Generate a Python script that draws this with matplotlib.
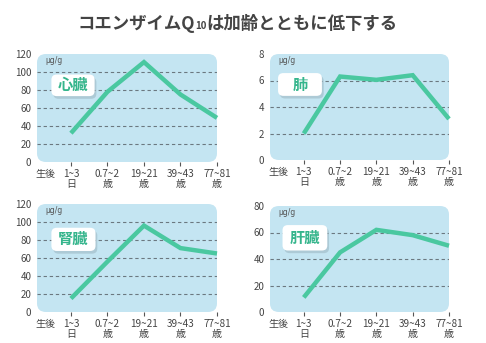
import matplotlib
matplotlib.use("Agg")
from matplotlib import pyplot as plt
from matplotlib.patches import FancyBboxPatch

plt.rcParams['font.family'] = ['Noto Sans CJK JP', 'DejaVu Sans']

# data
age_labels = ['生後\n ', '1~3\n日', '0.7~2\n歳', '19~21\n歳', '39~43\n歳', '77~81\n歳']
organs = ['心臓', '肺', '腎臓', '肝臓']
heart = [32, 78, 111, 75, 49]
lung = [2.0, 6.3, 6.05, 6.4, 3.1]
kidney = [15, 56, 96, 71, 65]
liver = [11, 45, 62, 58, 50]
y_max = [120, 8, 120, 80]
y_step = [20, 2, 20, 20]
unit = 'μg/g'

LINE = '#4ac8a0'
LABEL = '#35b58c'
BG = '#c4e5f2'
TXT = '#444444'

# layout: axes rect, label box (x0, y0, x1, y1) in axes fraction
axes_rects = [
    [37 / 486, 181 / 343, 180 / 486, 108 / 343],
    [270 / 486, 183 / 343, 179 / 486, 106 / 343],
    [37 / 486, 31 / 343, 180 / 486, 108 / 343],
    [270 / 486, 31 / 343, 179 / 486, 106 / 343],
]
label_boxes = [
    (0.08, 0.61, 0.32, 0.81),
    (0.045, 0.605, 0.29, 0.82),
    (0.08, 0.565, 0.325, 0.78),
    (0.07, 0.58, 0.32, 0.82),
]

fig = plt.figure(figsize=(4.86, 3.43), dpi=100)
fig.patch.set_facecolor('white')

# title with small "10"
renderer = fig.canvas.get_renderer()
base = 1 - 29 / 343
t1 = fig.text(78 / 486, base, 'コエンザイムQ', fontsize=12.5, fontweight='bold',
              color=TXT, va='baseline', ha='left')
x1 = fig.transFigure.inverted().transform(
    (t1.get_window_extent(renderer).x1, 0))[0]
t2 = fig.text(x1 - 0.001, base, '10', fontsize=7, fontweight='bold',
              color=TXT, va='baseline', ha='left')
x2 = fig.transFigure.inverted().transform(
    (t2.get_window_extent(renderer).x1, 0))[0]
fig.text(x2, base, 'は加齢とともに低下する', fontsize=12.5, fontweight='bold',
         color=TXT, va='baseline', ha='left')

series = [heart, lung, kidney, liver]
x = [1, 2, 3, 4, 5]

for i in range(4):
    ax = fig.add_axes(axes_rects[i])
    ax.patch.set_visible(False)
    for s in ax.spines.values():
        s.set_visible(False)

    ax.add_patch(FancyBboxPatch((0, 0), 1, 1, boxstyle='round,pad=0,rounding_size=0.05',
                                mutation_aspect=1.6, transform=ax.transAxes,
                                fc=BG, ec='none', zorder=0, clip_on=False))

    ax.set_xlim(0.07, 5)
    ax.set_ylim(0, y_max[i])
    ticks = list(range(0, y_max[i] + 1, y_step[i]))
    ax.set_yticks(ticks)
    ax.set_yticklabels([str(t) for t in ticks])
    for t in ticks[1:-1]:
        ax.axhline(t, color='#6b7880', lw=0.8, ls=(0, (3, 2.5)), zorder=1)

    ax.plot(x, series[i], color=LINE, lw=3.2, solid_capstyle='butt',
            solid_joinstyle='miter', zorder=3, clip_on=False)

    ax.set_xticks([0.29] + x)
    ax.set_xticklabels(age_labels, linespacing=1.0)
    ax.tick_params(axis='x', length=3, width=0.8, color='#555555', pad=2,
                   labelsize=7.2, labelcolor=TXT, direction='out')
    ax.tick_params(axis='y', length=0, pad=4, labelsize=7, labelcolor=TXT)
    ax.get_xaxis().get_major_ticks()[0].tick1line.set_visible(False)

    ax.text(0.045, 0.94, unit, transform=ax.transAxes, fontsize=5.5,
            color='#555555', va='center', ha='left', family=['DejaVu Sans'])

    bx0, by0, bx1, by1 = label_boxes[i]
    ax.add_patch(FancyBboxPatch((bx0 + 0.01, by0 - 0.025), bx1 - bx0, by1 - by0,
                                boxstyle='round,pad=0,rounding_size=0.03',
                                mutation_aspect=1.6, transform=ax.transAxes,
                                fc='#9fb9c4', ec='none', alpha=0.6, zorder=4))
    ax.add_patch(FancyBboxPatch((bx0, by0), bx1 - bx0, by1 - by0,
                                boxstyle='round,pad=0,rounding_size=0.03',
                                mutation_aspect=1.6, transform=ax.transAxes,
                                fc='white', ec='none', zorder=5))
    ax.text((bx0 + bx1) / 2, (by0 + by1) / 2, organs[i], transform=ax.transAxes,
            fontsize=11, fontweight='bold', color=LABEL, ha='center',
            va='center', zorder=6)

fig.savefig('out.png', dpi=100)
